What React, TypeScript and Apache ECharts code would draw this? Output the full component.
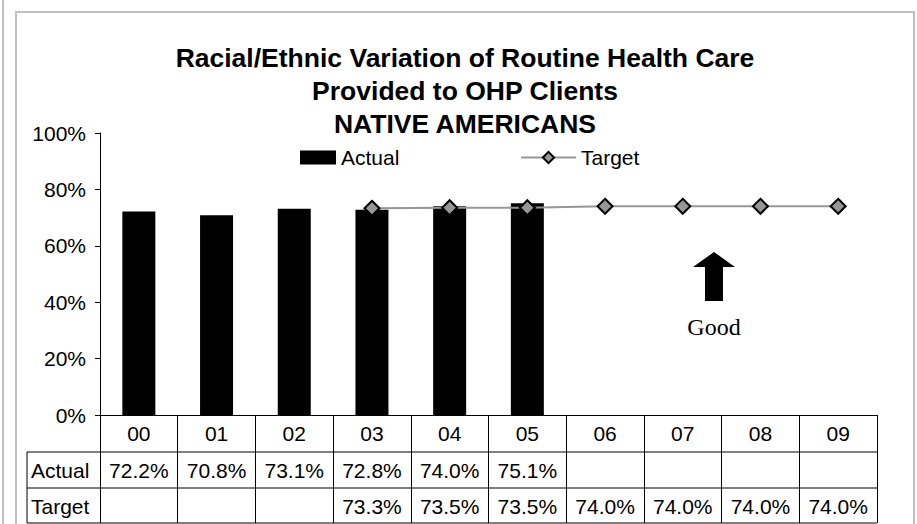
import React, { useEffect, useRef } from "react";
import * as echarts from "echarts";

const categories = ["00", "01", "02", "03", "04", "05", "06", "07", "08", "09"];
const actualValues: (number | null)[] = [0.722, 0.708, 0.731, 0.728, 0.74, 0.751, null, null, null, null];
const targetValues: (number | null)[] = [null, null, null, 0.733, 0.735, 0.735, 0.74, 0.74, 0.74, 0.74];
const yTickValues = [0, 0.2, 0.4, 0.6, 0.8, 1.0];
const titleLines = ["Racial/Ethnic Variation of Routine Health Care", "Provided to OHP Clients", "NATIVE AMERICANS"];
const rowLabels = ["Actual", "Target"];

const FONT = "'Liberation Sans', Arial, sans-serif";
const FS = 21;

const fmtPct = (v: number | null) => (v == null ? " " : (v * 100).toFixed(1) + "%");

export default function App() {
  const ref = useRef<HTMLDivElement>(null);
  useEffect(() => {
    if (!ref.current) return;
    const chart = echarts.init(ref.current, null, { renderer: "svg" });
    const gridLeft = 100;
    const gridRight = 877;
    const gridTop = 133;
    const gridBottom = 415;
    const rowH = 36;
    const graphic: any[] = [
      // outer page line and frame
      { type: "line", shape: { x1: 3, y1: 0, x2: 3, y2: 524 }, style: { stroke: "#c0c0c0", lineWidth: 2 } },
      { type: "rect", shape: { x: 16, y: 12, width: 898, height: 530 }, style: { fill: "none", stroke: "#c0c0c0", lineWidth: 2 } },
      // title
      {
        type: "text",
        x: 465,
        y: 41,
        style: {
          text: titleLines.join("\n"),
          fontFamily: FONT,
          fontWeight: "bold",
          fontSize: 26.5,
          lineHeight: 33,
          fill: "#000",
          align: "center",
          verticalAlign: "top",
        },
      },
      // table lines
      { type: "line", shape: { x1: 27, y1: gridBottom + rowH + 1, x2: gridRight, y2: gridBottom + rowH + 1 }, style: { stroke: "#000", lineWidth: 1 } },
      { type: "line", shape: { x1: 27, y1: gridBottom + 2 * rowH + 1, x2: gridRight, y2: gridBottom + 2 * rowH + 1 }, style: { stroke: "#000", lineWidth: 1 } },
      { type: "line", shape: { x1: 27, y1: gridBottom + 3 * rowH, x2: gridRight, y2: gridBottom + 3 * rowH }, style: { stroke: "#000", lineWidth: 1 } },
      { type: "line", shape: { x1: 27, y1: gridBottom + rowH + 1, x2: 27, y2: gridBottom + 3 * rowH }, style: { stroke: "#000", lineWidth: 1 } },
      ...rowLabels.map((t, i) => ({
        type: "text",
        x: 31,
        y: gridBottom + rowH * (i + 1.5) + 1,
        style: { text: t, fontFamily: FONT, fontSize: FS, fill: "#000", verticalAlign: "middle", align: "left" },
      })),
      // Good arrow
      {
        type: "polygon",
        shape: { points: [[693, 267], [714, 252], [735, 267], [723, 267], [723, 301], [705, 301], [705, 267]] },
        style: { fill: "#000" },
      },
      {
        type: "text",
        x: 714,
        y: 327,
        style: { text: "Good", fontFamily: "'Liberation Serif', 'Times New Roman', serif", fontSize: 24, fill: "#000", align: "center", verticalAlign: "middle" },
      },
    ];

    chart.setOption({
      animation: false,
      textStyle: { fontFamily: FONT },
      grid: { left: gridLeft, right: 917 - gridRight, top: gridTop, bottom: 524 - gridBottom, containLabel: false },
      legend: [
        {
          data: [{ name: "Actual", icon: "rect" }],
          left: 295,
          top: 142,
          itemWidth: 36,
          itemHeight: 14,
          itemGap: 4,
          textStyle: { fontSize: FS, color: "#000", fontFamily: FONT },
        },
        {
          data: ["Target"],
          left: 515,
          top: 142,
          itemWidth: 55,
          itemHeight: 14,
          textStyle: { fontSize: FS, color: "#000", fontFamily: FONT },
        },
      ],
      xAxis: {
        type: "category",
        data: categories,
        boundaryGap: true,
        axisLine: { show: true, lineStyle: { color: "#000", width: 1 } },
        axisTick: { show: true, length: rowH * 3, interval: 0, lineStyle: { color: "#000", width: 1 } },
        axisLabel: {
          interval: 0,
          margin: 0,
          color: "#000",
          fontFamily: FONT,
          formatter: (v: string, i: number) => `{h|${v}}\n{v|${fmtPct(actualValues[i])}}\n{v|${fmtPct(targetValues[i])}}`,
          rich: {
            h: { fontSize: FS, lineHeight: rowH + 1, fontFamily: FONT, color: "#000" },
            v: { fontSize: FS, lineHeight: rowH, fontFamily: FONT, color: "#000" },
          },
        },
      },
      yAxis: {
        type: "value",
        min: yTickValues[0],
        max: yTickValues[yTickValues.length - 1],
        interval: 0.2,
        axisLine: { show: true, lineStyle: { color: "#000", width: 1 } },
        axisTick: { show: true, length: 5, inside: false, lineStyle: { color: "#000" } },
        splitLine: { show: false },
        axisLabel: {
          margin: 14,
          fontSize: FS,
          color: "#000",
          fontFamily: FONT,
          formatter: (v: number) => Math.round(v * 100) + "%",
        },
      },
      series: [
        {
          name: "Actual",
          type: "bar",
          data: actualValues,
          barWidth: 33,
          itemStyle: { color: "#000" },
        },
        {
          name: "Target",
          type: "line",
          data: targetValues,
          symbol: "diamond",
          symbolSize: 15,
          lineStyle: { color: "#969696", width: 2 },
          itemStyle: { color: "#969696", borderColor: "#000", borderWidth: 2 },
        },
      ],
      graphic,
    });
    return () => chart.dispose();
  }, []);
  return <div ref={ref} style={{ position: "absolute", left: 0, top: 0, width: 917, height: 524 }} />;
}
